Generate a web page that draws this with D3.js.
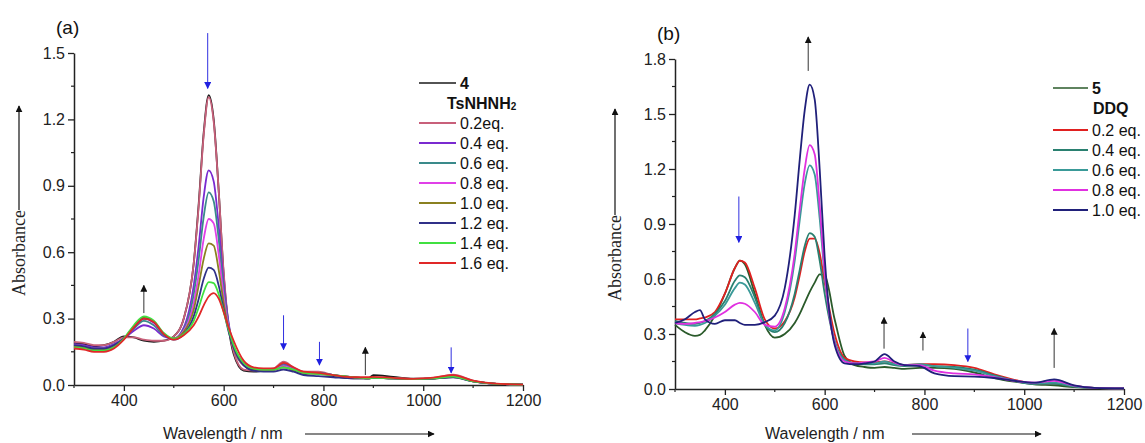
<!DOCTYPE html>
<html>
<head>
<meta charset="utf-8">
<script src="https://cdn.jsdelivr.net/npm/d3@7"></script>
<style>
  body { margin: 0; background: #fff; }
  svg { font-family: "Liberation Sans", Arial, sans-serif; }
</style>
</head>
<body>
<div id="chart"></div>
<script>
var width = 1145
var height = 443

// ---- panel (a) data: compound 4 + TsNHNH2 ----
var wavesA = [300,320,340,360,380,400,420,440,460,480,500,520,540,550,560,570,580,590,600,610,620,640,660,680,700,720,740,760,790,820,860,890,900,940,980,1020,1060,1100,1140,1200]
var namesA = ["4", "0.2eq.", "0.4 eq.", "0.6 eq.", "0.8 eq.", "1.0 eq.", "1.2 eq.", "1.4 eq.", "1.6 eq."]
var colorsA = ["#1a1a1a", "#c8607a", "#7a2ad0", "#3a8a8a", "#e040e8", "#8a8020", "#303088", "#40e040", "#e02828"]
var valuesA = [
  [0.19,0.185,0.175,0.18,0.195,0.22,0.215,0.20,0.195,0.20,0.22,0.30,0.55,0.82,1.14,1.31,1.20,0.88,0.50,0.26,0.14,0.065,0.06,0.065,0.07,0.085,0.065,0.05,0.055,0.04,0.03,0.03,0.045,0.037,0.029,0.03,0.04,0.016,0.006,0.002],
  [0.195,0.19,0.18,0.18,0.195,0.215,0.215,0.205,0.20,0.20,0.22,0.30,0.55,0.81,1.13,1.30,1.19,0.88,0.51,0.27,0.15,0.07,0.065,0.07,0.075,0.105,0.08,0.06,0.06,0.045,0.035,0.03,0.032,0.03,0.028,0.032,0.047,0.02,0.006,0.002],
  [0.185,0.18,0.17,0.17,0.185,0.21,0.245,0.27,0.255,0.22,0.21,0.26,0.45,0.63,0.85,0.97,0.92,0.72,0.46,0.28,0.17,0.09,0.07,0.07,0.07,0.095,0.075,0.055,0.055,0.045,0.035,0.03,0.032,0.03,0.027,0.03,0.042,0.018,0.006,0.002],
  [0.18,0.175,0.165,0.165,0.18,0.21,0.255,0.29,0.27,0.225,0.21,0.25,0.41,0.57,0.76,0.87,0.83,0.66,0.43,0.27,0.17,0.09,0.07,0.07,0.07,0.09,0.07,0.055,0.055,0.045,0.035,0.03,0.032,0.03,0.027,0.03,0.04,0.017,0.006,0.002],
  [0.18,0.175,0.165,0.165,0.18,0.21,0.26,0.30,0.28,0.23,0.21,0.245,0.37,0.50,0.66,0.75,0.73,0.59,0.40,0.26,0.17,0.09,0.07,0.07,0.07,0.085,0.07,0.055,0.05,0.045,0.035,0.03,0.032,0.03,0.027,0.03,0.038,0.016,0.006,0.002],
  [0.175,0.17,0.16,0.16,0.175,0.21,0.265,0.305,0.285,0.23,0.21,0.24,0.34,0.45,0.57,0.64,0.63,0.52,0.37,0.25,0.17,0.09,0.07,0.068,0.068,0.08,0.068,0.055,0.05,0.045,0.035,0.03,0.032,0.03,0.027,0.029,0.036,0.016,0.006,0.002],
  [0.18,0.175,0.165,0.165,0.18,0.21,0.26,0.30,0.285,0.23,0.205,0.23,0.31,0.39,0.48,0.53,0.52,0.45,0.34,0.24,0.17,0.09,0.065,0.06,0.06,0.07,0.06,0.045,0.04,0.035,0.03,0.03,0.032,0.03,0.027,0.029,0.035,0.016,0.006,0.002],
  [0.17,0.165,0.155,0.155,0.17,0.21,0.27,0.31,0.29,0.235,0.21,0.23,0.29,0.35,0.42,0.465,0.46,0.41,0.33,0.25,0.18,0.10,0.075,0.07,0.07,0.08,0.07,0.055,0.05,0.045,0.035,0.03,0.032,0.03,0.027,0.03,0.038,0.016,0.006,0.002],
  [0.165,0.16,0.15,0.15,0.165,0.205,0.26,0.30,0.285,0.23,0.205,0.225,0.27,0.31,0.36,0.40,0.415,0.39,0.33,0.26,0.20,0.11,0.08,0.075,0.075,0.10,0.08,0.06,0.055,0.045,0.035,0.035,0.037,0.032,0.028,0.033,0.045,0.02,0.007,0.002]
]
// arrows: wavelength, start value, end value, colour
var arrowsA = [[568,1.59,1.34,"blue"],[440,0.325,0.45,"black"],[720,0.315,0.16,"blue"],[792,0.195,0.09,"blue"],[884,0.045,0.17,"black"],[1056,0.17,0.055,"blue"]]
var yTicksA = [0, 0.3, 0.6, 0.9, 1.2, 1.5]

// ---- panel (b) data: compound 5 + DDQ ----
var wavesB = [300,320,340,350,360,380,400,420,430,440,460,480,500,520,540,550,560,570,580,590,600,620,640,660,680,700,720,740,760,790,820,860,900,940,980,1020,1060,1100,1140,1200]
var namesB = ["5", "0.2 eq.", "0.4 eq.", "0.6 eq.", "0.8 eq.", "1.0 eq."]
var colorsB = ["#2a5a2a", "#e02020", "#2a8070", "#3a9a98", "#e030e0", "#20207a"]
var valuesB = [
  [0.35,0.31,0.29,0.295,0.32,0.40,0.52,0.66,0.70,0.68,0.52,0.35,0.28,0.30,0.36,0.41,0.47,0.53,0.58,0.625,0.62,0.38,0.18,0.13,0.12,0.115,0.12,0.115,0.11,0.115,0.115,0.11,0.09,0.06,0.04,0.025,0.02,0.01,0.005,0.003],
  [0.38,0.38,0.38,0.385,0.39,0.42,0.52,0.66,0.70,0.69,0.55,0.38,0.33,0.37,0.50,0.62,0.75,0.82,0.82,0.74,0.58,0.30,0.17,0.15,0.145,0.145,0.15,0.14,0.13,0.135,0.135,0.13,0.115,0.08,0.05,0.03,0.03,0.015,0.006,0.003],
  [0.37,0.36,0.355,0.36,0.37,0.41,0.48,0.59,0.62,0.61,0.50,0.35,0.31,0.36,0.52,0.65,0.78,0.85,0.83,0.70,0.52,0.26,0.16,0.14,0.135,0.135,0.14,0.13,0.125,0.13,0.125,0.12,0.105,0.075,0.045,0.028,0.028,0.013,0.006,0.003],
  [0.36,0.35,0.345,0.35,0.36,0.40,0.46,0.55,0.58,0.57,0.47,0.35,0.32,0.42,0.70,0.92,1.12,1.22,1.17,0.93,0.62,0.26,0.155,0.14,0.14,0.14,0.15,0.135,0.13,0.135,0.125,0.115,0.10,0.07,0.045,0.03,0.035,0.015,0.006,0.003],
  [0.36,0.355,0.36,0.365,0.37,0.39,0.42,0.46,0.47,0.465,0.42,0.35,0.34,0.44,0.74,0.98,1.20,1.33,1.28,1.00,0.64,0.25,0.15,0.14,0.145,0.15,0.17,0.145,0.13,0.13,0.10,0.085,0.08,0.065,0.045,0.035,0.045,0.018,0.006,0.003],
  [0.36,0.38,0.42,0.43,0.38,0.355,0.375,0.375,0.36,0.35,0.35,0.365,0.40,0.55,0.95,1.25,1.52,1.66,1.58,1.20,0.72,0.24,0.14,0.135,0.14,0.15,0.19,0.15,0.13,0.125,0.085,0.07,0.068,0.06,0.045,0.035,0.052,0.02,0.006,0.003]
]
var arrowsB = [[567,1.735,1.92,"black"],[428,1.05,0.80,"blue"],[719,0.22,0.39,"black"],[797,0.21,0.31,"black"],[887,0.33,0.15,"blue"],[1060,0.115,0.33,"black"]]
var yTicksB = [0, 0.3, 0.6, 0.9, 1.2, 1.5, 1.8]

var xTicks = [400, 600, 800, 1000, 1200]
var xMinor = [300, 500, 700, 900, 1100]

var svg = d3.select("#chart").append("svg")
    .attr("width", width)
    .attr("height", height)

var defs = svg.append("defs")
;["black", "blue"].forEach(function(c) {
  defs.append("marker")
    .attr("id", "head-" + c)
    .attr("viewBox", "0 0 10 10")
    .attr("refX", 9).attr("refY", 5)
    .attr("markerWidth", 7).attr("markerHeight", 7)
    .attr("markerUnits", "userSpaceOnUse")
    .attr("orient", "auto")
    .append("path").attr("d", "M0,0 L10,5 L0,10 z").attr("fill", c == "blue" ? "#2020e0" : "#111")
})

function drawPanel(p) {
  var x = d3.scaleLinear().domain([300, 1200]).range([p.left, p.right])
  var y = d3.scaleLinear().domain([0, p.yMax]).range([p.bottom, p.top])

  // minor ticks
  var yMinor = d3.range(0.15, p.yMax, 0.3)
  svg.append("g").selectAll("line").data(yMinor).enter().append("line")
    .attr("x1", p.left - 3).attr("x2", p.left)
    .attr("y1", function(d) { return y(d) }).attr("y2", function(d) { return y(d) })
    .attr("stroke", "#222").attr("stroke-width", 1.2)
  svg.append("g").selectAll("line").data(xMinor).enter().append("line")
    .attr("x1", function(d) { return x(d) }).attr("x2", function(d) { return x(d) })
    .attr("y1", p.bottom).attr("y2", p.bottom + 3)
    .attr("stroke", "#222").attr("stroke-width", 1.2)

  var xAxis = svg.append("g")
    .attr("transform", "translate(0," + p.bottom + ")")
    .call(d3.axisBottom(x).tickValues(xTicks).tickSize(6).tickSizeOuter(0).tickPadding(4).tickFormat(d3.format("d")))
  var yAxis = svg.append("g")
    .attr("transform", "translate(" + p.left + ",0)")
    .call(d3.axisLeft(y).tickValues(p.yTicks).tickSize(6).tickSizeOuter(0).tickPadding(3).tickFormat(d3.format(".1f")))
  ;[xAxis, yAxis].forEach(function(a) {
    a.select(".domain").attr("stroke", "#222").attr("stroke-width", 1.5)
    a.selectAll(".tick line").attr("stroke", "#222").attr("stroke-width", 1.3)
    a.selectAll("text").attr("font-size", 16).attr("fill", "#222")
      .attr("font-family", "'Liberation Sans', Arial, sans-serif")
  })

  // spectra
  var line = d3.line()
    .x(function(d) { return x(d[0]) })
    .y(function(d) { return y(d[1]) })
    .curve(d3.curveMonotoneX)
  p.values.forEach(function(vals, i) {
    var pts = p.waves.map(function(w, j) { return [w, vals[j]] })
    svg.append("path").datum(pts)
      .attr("d", line)
      .attr("fill", "none")
      .attr("stroke", p.colors[i])
      .attr("stroke-width", 1.8)
  })

  // arrows
  p.arrows.forEach(function(a) {
    svg.append("line")
      .attr("x1", x(a[0])).attr("x2", x(a[0]))
      .attr("y1", y(a[1])).attr("y2", y(a[2]))
      .attr("stroke", a[3] == "blue" ? "#3030e0" : "#333")
      .attr("stroke-width", 1)
      .attr("marker-end", "url(#head-" + a[3] + ")")
  })

  // panel label
  svg.append("text").attr("x", p.labelX).attr("y", p.labelY)
    .attr("font-size", 19).attr("fill", "#111").text(p.label)

  // axis titles
  svg.append("text").attr("x", p.xTitleX).attr("y", 439)
    .attr("font-size", 16).attr("fill", "#222").text("Wavelength / nm")
  svg.append("line")
    .attr("x1", p.xArrow[0]).attr("x2", p.xArrow[1]).attr("y1", 434).attr("y2", 434)
    .attr("stroke", "#111").attr("stroke-width", 1.2)
    .attr("marker-end", "url(#head-black)")

  svg.append("text")
    .attr("transform", "translate(" + (p.yTitleX + 6) + "," + p.yTitleBottom + ") rotate(-90)")
    .attr("font-family", "'Liberation Serif', 'Times New Roman', serif")
    .attr("font-size", 18).attr("fill", "#222").text("Absorbance")
  svg.append("line")
    .attr("x1", p.yTitleX).attr("x2", p.yTitleX)
    .attr("y1", p.yTitleBottom - 86).attr("y2", p.yArrowTop)
    .attr("stroke", "#111").attr("stroke-width", 1.2)
    .attr("marker-end", "url(#head-black)")

  // legend
  var lg = svg.append("g")
  p.legendRows.forEach(function(r) {
    if (r.color) {
      lg.append("line").attr("x1", p.legX1).attr("x2", p.legX2)
        .attr("y1", r.y).attr("y2", r.y)
        .attr("stroke", r.color).attr("stroke-width", r.head ? 1.4 : 2)
    }
    var t = lg.append("text").attr("x", r.x || p.legX2 + 4).attr("y", r.y + 6)
      .attr("font-size", 16).attr("fill", "#111")
      .attr("font-weight", r.bold ? "bold" : "normal")
    if (r.sub) {
      t.append("tspan").text(r.text)
      t.append("tspan").attr("font-size", 10).attr("dy", 1).text(r.sub)
    } else {
      t.text(r.text)
    }
  })
}

var rowsA = [{y: 83, text: "4", color: colorsA[0], bold: true, head: true},
             {y: 103, text: "TsNHNH", sub: "2", bold: true, x: 447}]
namesA.slice(1).forEach(function(n, i) {
  rowsA.push({y: 123 + i * 20, text: n, color: colorsA[i + 1]})
})
var rowsB = [{y: 88, text: "5", color: colorsB[0], bold: true, head: true},
             {y: 108, text: "DDQ", bold: true, x: 1093}]
namesB.slice(1).forEach(function(n, i) {
  rowsB.push({y: 130 + i * 20, text: n, color: colorsB[i + 1]})
})

drawPanel({
  left: 74, right: 523, top: 53, bottom: 385, yMax: 1.5, yTicks: yTicksA,
  waves: wavesA, values: valuesA, colors: colorsA, arrows: arrowsA,
  label: "(a)", labelX: 56, labelY: 34,
  xTitleX: 163, xArrow: [305, 434],
  yTitleX: 19, yTitleBottom: 296, yArrowTop: 106,
  legX1: 419, legX2: 456, legendRows: rowsA
})
drawPanel({
  left: 675, right: 1124, top: 59, bottom: 389, yMax: 1.8, yTicks: yTicksB,
  waves: wavesB, values: valuesB, colors: colorsB, arrows: arrowsB,
  label: "(b)", labelX: 657, labelY: 40,
  xTitleX: 765, xArrow: [912, 1041],
  yTitleX: 615, yTitleBottom: 301, yArrowTop: 109,
  legX1: 1053, legX2: 1088, legendRows: rowsB
})
</script>
</body>
</html>
